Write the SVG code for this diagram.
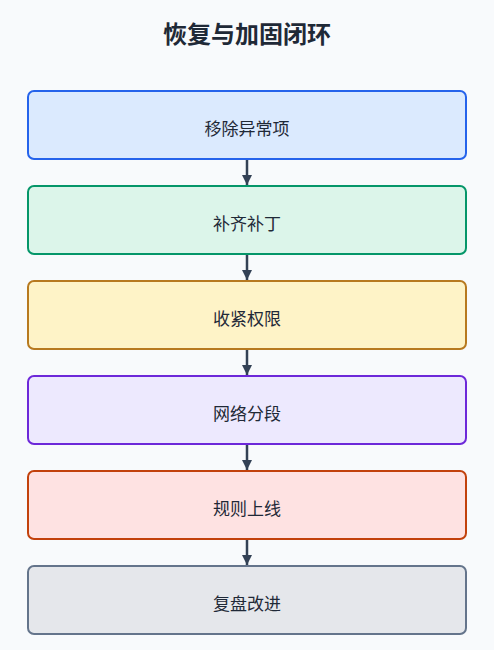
<svg xmlns="http://www.w3.org/2000/svg" width="494" height="650" viewBox="0 0 494 650">
<style>
.title{font-family:"Noto Sans CJK SC","Noto Sans",sans-serif;font-size:24px;font-weight:700;fill:#1f2937;text-anchor:middle}
.box{stroke-width:2}
.lbl{font-family:"Noto Sans CJK SC","Noto Sans",sans-serif;font-size:17px;fill:#1f2937;text-anchor:middle;dominant-baseline:central}
.conn{stroke:#334155;stroke-width:2.5;fill:none}
</style>
<defs>
<marker id="arr" viewBox="0 0 10 10" refX="10" refY="5" markerWidth="4" markerHeight="4" orient="auto" markerUnits="strokeWidth">
<path d="M0,0 L10,5 L0,10 z" fill="#334155"/>
</marker>
</defs>
<rect width="494" height="650" fill="#f8fafc"/>
<text class="title" x="247" y="43">恢复与加固闭环</text>
<g id="connectors">
<line class="conn" x1="247" y1="159" x2="247" y2="185" marker-end="url(#arr)"/>
<line class="conn" x1="247" y1="254" x2="247" y2="280" marker-end="url(#arr)"/>
<line class="conn" x1="247" y1="349" x2="247" y2="375" marker-end="url(#arr)"/>
<line class="conn" x1="247" y1="444" x2="247" y2="470" marker-end="url(#arr)"/>
<line class="conn" x1="247" y1="539" x2="247" y2="565" marker-end="url(#arr)"/>
</g>
<g id="n1"><rect class="box" x="28" y="91" width="438" height="68" rx="6" fill="#dbeafe" stroke="#2563eb"/><text class="lbl" x="247" y="127.5">移除异常项</text></g>
<g id="n2"><rect class="box" x="28" y="186" width="438" height="68" rx="6" fill="#dcf5ea" stroke="#059669"/><text class="lbl" x="247" y="222.5">补齐补丁</text></g>
<g id="n3"><rect class="box" x="28" y="281" width="438" height="68" rx="6" fill="#fef3c7" stroke="#b7791f"/><text class="lbl" x="247" y="317.5">收紧权限</text></g>
<g id="n4"><rect class="box" x="28" y="376" width="438" height="68" rx="6" fill="#ede9fe" stroke="#6d28d9"/><text class="lbl" x="247" y="412.5">网络分段</text></g>
<g id="n5"><rect class="box" x="28" y="471" width="438" height="68" rx="6" fill="#fee2e2" stroke="#c2410c"/><text class="lbl" x="247" y="507.5">规则上线</text></g>
<g id="n6"><rect class="box" x="28" y="566" width="438" height="68" rx="6" fill="#e5e7eb" stroke="#64748b"/><text class="lbl" x="247" y="602.5">复盘改进</text></g>
</svg>
